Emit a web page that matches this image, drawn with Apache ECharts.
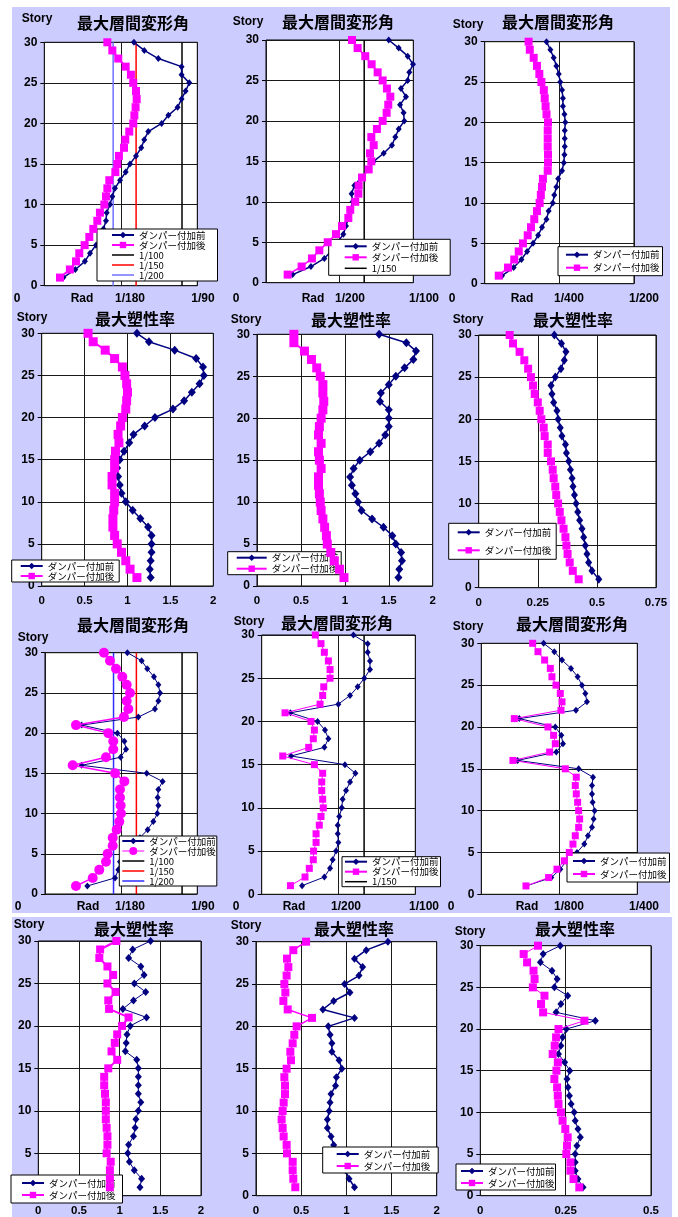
<!DOCTYPE html>
<html><head><meta charset="utf-8">
<script src="https://cdn.jsdelivr.net/npm/echarts@6/dist/echarts.min.js"></script>
<style>html,body{margin:0;padding:0;background:#fff}#c{width:678px;height:1217px}</style>
</head><body><div id="c"></div>
<script>
// ---------- DATA ----------
const stories = [1,2,3,4,5,6,7,8,9,10,11,12,13,14,15,16,17,18,19,20,21,22,23,24,25,26,27,28,29,30];
const seriesNames = ['ダンパー付加前','ダンパー付加後'];
const driftTitle = '最大層間変形角';
const ductTitle = '最大塑性率';
const storyLabel = 'Story';

const p1Before = [0.00138,0.00225,0.00295,0.00332,0.00375,0.00404,0.00429,0.00448,0.00453,0.00477,0.00494,0.00513,0.00550,0.00591,0.00622,0.00666,0.00704,0.00726,0.00755,0.00852,0.00901,0.00968,0.00997,0.01026,0.01053,0.00997,0.00997,0.00828,0.00726,0.00651];
const p1After  = [0.00114,0.00186,0.00230,0.00254,0.00293,0.00327,0.00356,0.00385,0.00404,0.00436,0.00448,0.00458,0.00472,0.00516,0.00530,0.00542,0.00579,0.00588,0.00617,0.00646,0.00654,0.00663,0.00671,0.00666,0.00646,0.00629,0.00591,0.00537,0.00494,0.00458];
const p2Before = [0.00181,0.00305,0.00396,0.00448,0.00486,0.00525,0.00543,0.00559,0.00572,0.00588,0.00581,0.00600,0.00645,0.00697,0.00731,0.00799,0.00855,0.00878,0.00901,0.00939,0.00934,0.00910,0.00950,0.00916,0.00962,0.00973,0.00998,0.00962,0.00901,0.00833];
const p2After  = [0.00147,0.00242,0.00312,0.00362,0.00419,0.00475,0.00516,0.00559,0.00572,0.00606,0.00627,0.00629,0.00652,0.00697,0.00715,0.00706,0.00731,0.00715,0.00753,0.00792,0.00819,0.00830,0.00844,0.00821,0.00792,0.00758,0.00717,0.00674,0.00622,0.00584];
const p3Before = [0.00058,0.00097,0.00123,0.00142,0.00162,0.00179,0.00192,0.00207,0.00214,0.00228,0.00233,0.00240,0.00246,0.00259,0.00265,0.00267,0.00268,0.00268,0.00268,0.00270,0.00267,0.00262,0.00262,0.00259,0.00253,0.00248,0.00240,0.00231,0.00220,0.00207];
const p3After  = [0.00047,0.00078,0.00099,0.00114,0.00128,0.00144,0.00155,0.00166,0.00175,0.00184,0.00188,0.00192,0.00195,0.00211,0.00212,0.00212,0.00211,0.00211,0.00211,0.00212,0.00207,0.00204,0.00201,0.00198,0.00190,0.00183,0.00175,0.00164,0.00151,0.00147];
const p4Before = [1.27,1.26,1.27,1.28,1.28,1.28,1.24,1.15,1.06,0.98,0.93,0.91,0.89,0.88,0.91,0.96,1.02,1.07,1.20,1.32,1.53,1.66,1.75,1.84,1.89,1.88,1.80,1.55,1.25,1.11];
const p4After  = [1.11,1.03,0.98,0.93,0.88,0.85,0.83,0.83,0.84,0.85,0.85,0.82,0.82,0.85,0.85,0.86,0.90,0.89,0.92,0.94,0.98,0.99,1.00,0.99,0.97,0.94,0.85,0.74,0.60,0.54];
const p5Before = [1.61,1.62,1.65,1.64,1.58,1.54,1.44,1.31,1.19,1.15,1.12,1.08,1.06,1.10,1.17,1.29,1.39,1.46,1.50,1.50,1.50,1.40,1.41,1.50,1.58,1.68,1.78,1.81,1.70,1.39];
const p5After  = [0.99,0.94,0.88,0.84,0.80,0.79,0.77,0.75,0.73,0.72,0.71,0.70,0.70,0.73,0.71,0.70,0.73,0.70,0.71,0.73,0.75,0.76,0.75,0.75,0.72,0.68,0.62,0.54,0.42,0.42];
const p6Before = [0.508,0.479,0.465,0.458,0.451,0.444,0.437,0.427,0.419,0.412,0.405,0.399,0.395,0.388,0.381,0.371,0.367,0.352,0.345,0.336,0.331,0.317,0.310,0.306,0.324,0.348,0.362,0.369,0.350,0.320];
const p6After  = [0.423,0.398,0.385,0.376,0.371,0.367,0.359,0.350,0.343,0.336,0.328,0.324,0.317,0.313,0.306,0.292,0.292,0.279,0.275,0.265,0.258,0.250,0.237,0.230,0.221,0.209,0.193,0.173,0.145,0.131];
const p7Before = [0.00309,0.00511,0.00535,0.00547,0.00596,0.00644,0.00693,0.00749,0.00790,0.00819,0.00827,0.00822,0.00827,0.00858,0.00742,0.00267,0.00552,0.00591,0.00579,0.00528,0.00267,0.00681,0.00802,0.00827,0.00839,0.00827,0.00795,0.00746,0.00705,0.00601];
const p7After  = [0.00226,0.00348,0.00396,0.00445,0.00457,0.00494,0.00494,0.00523,0.00542,0.00554,0.00552,0.00547,0.00547,0.00579,0.00511,0.00202,0.00445,0.00498,0.00498,0.00462,0.00226,0.00576,0.00608,0.00596,0.00620,0.00596,0.00564,0.00518,0.00474,0.00430];
const p8Before = [0.00263,0.00408,0.00445,0.00462,0.00484,0.00499,0.00495,0.00495,0.00505,0.00521,0.00527,0.00549,0.00575,0.00610,0.00542,0.00191,0.00408,0.00434,0.00412,0.00364,0.00187,0.00499,0.00575,0.00625,0.00668,0.00705,0.00705,0.00690,0.00690,0.00597];
const p8After  = [0.00187,0.00282,0.00310,0.00336,0.00338,0.00354,0.00354,0.00375,0.00386,0.00401,0.00397,0.00391,0.00391,0.00397,0.00343,0.00137,0.00306,0.00336,0.00343,0.00321,0.00152,0.00380,0.00397,0.00404,0.00445,0.00445,0.00434,0.00408,0.00386,0.00349];
const p9Before = [0.000721,0.001122,0.001266,0.001362,0.001533,0.001651,0.001709,0.001774,0.001800,0.001816,0.001784,0.001774,0.001774,0.001790,0.001560,0.000582,0.001202,0.001309,0.001282,0.001186,0.000609,0.001517,0.001693,0.001667,0.001613,0.001544,0.001437,0.001293,0.001170,0.000999];
const p9After  = [0.000716,0.001079,0.001213,0.001330,0.001410,0.001469,0.001506,0.001560,0.001576,0.001560,0.001544,0.001522,0.001506,0.001522,0.001346,0.000507,0.001095,0.001186,0.001159,0.001068,0.000529,0.001277,0.001293,0.001266,0.001197,0.001132,0.001106,0.001015,0.000908,0.000823];
const p10Before = [1.25,1.27,1.18,1.12,1.10,1.11,1.17,1.19,1.20,1.23,1.26,1.23,1.23,1.23,1.23,1.21,1.07,1.08,1.09,1.13,1.33,1.04,1.17,1.32,1.18,1.30,1.26,1.11,1.16,1.38];
const p10After  = [0.88,0.88,0.88,0.89,0.84,0.85,0.85,0.84,0.83,0.83,0.83,0.82,0.81,0.81,0.86,0.97,0.90,0.94,0.97,1.03,1.11,0.87,0.86,0.95,0.85,0.92,0.85,0.75,0.76,0.96];
const p11Before = [1.09,1.03,0.99,0.95,0.90,0.86,0.83,0.79,0.79,0.81,0.82,0.83,0.88,0.89,0.95,0.92,0.84,0.84,0.82,0.80,1.09,0.74,0.86,1.04,0.98,1.14,1.18,1.09,1.22,1.46];
const p11After  = [0.435,0.413,0.406,0.406,0.343,0.339,0.306,0.295,0.284,0.295,0.306,0.321,0.321,0.314,0.339,0.387,0.380,0.406,0.424,0.450,0.620,0.351,0.303,0.325,0.314,0.339,0.358,0.343,0.413,0.554];
const p12Before = [0.301,0.286,0.278,0.278,0.278,0.283,0.293,0.286,0.278,0.275,0.266,0.261,0.257,0.254,0.262,0.247,0.229,0.236,0.241,0.252,0.337,0.222,0.236,0.256,0.217,0.225,0.210,0.176,0.184,0.234];
const p12After  = [0.290,0.273,0.264,0.264,0.252,0.254,0.256,0.249,0.241,0.236,0.229,0.227,0.225,0.217,0.223,0.227,0.212,0.218,0.222,0.229,0.305,0.184,0.178,0.188,0.154,0.159,0.156,0.137,0.127,0.169];

const p1RefNames = ['1/100','1/150','1/200'];  const p1RefValues = [1/100, 1/150, 1/200];
const p2RefNames = ['1/150'];                  const p2RefValues = [1/150];
const p7RefNames = ['1/100','1/150','1/200'];  const p7RefValues = [1/100, 1/150, 1/200];
const p8RefNames = ['1/150'];                  const p8RefValues = [1/150];

const p1RadLabels = ['0','Rad','1/180','1/90'];
const p2RadLabels = ['0','Rad','1/200','1/100'];
const p3RadLabels = ['0','Rad','1/400','1/200'];
const p7RadLabels = ['0','Rad','1/180','1/90'];
const p8RadLabels = ['0','Rad','1/200','1/100'];
const p9RadLabels = ['0','Rad','1/800','1/400'];

// ---------- LAYOUT / STYLE ----------
const NAVY = '#000080', MAG = '#FF00FF';
const FNUM = '"Liberation Sans", Arial, sans-serif';
const FJP = '"Noto Sans CJK JP", sans-serif';
const circleLineIcon = 'path://M0,3.4H22V4.6H0Z M7,4A4,4 0 1,1 15,4A4,4 0 1,1 7,4Z';

const panels = [
 {grid:[44.3,42.3,153,243.4], xMax:1/90, xInt:1/180, before:p1Before, after:p1After, refN:p1RefNames, refV:p1RefValues, refC:['#000000','#FF0000','#7070FF'],
  title:driftTitle, tPos:[133,23], sPos:[37,19], rad:p1RadLabels, radX:[17,82,130,203], radY:299,
  lg:{left:97, top:229, pad:[1,12,1,14], gap:0}, nSz:[6,7], aSz:8, nW:1.5, aW:2},
 {grid:[266,40,147.3,242.7], xMax:0.01, xInt:0.005, before:p2Before, after:p2After, refN:p2RefNames, refV:p2RefValues, refC:['#000000'],
  title:driftTitle, tPos:[338,22], sPos:[248,22], rad:p2RadLabels, radX:[236,313,350,424], radY:299,
  lg:{left:328.7, top:239.3, pad:[2,12,2,15], gap:1}, nSz:[6,7], aSz:8, nW:1.5, aW:1.5},
 {grid:[484.7,41.7,149.3,242], xMax:0.005, xInt:0.0025, before:p3Before, after:p3After, refN:[], refV:[], refC:[],
  title:driftTitle, tPos:[558,22], sPos:[468,25], rad:p3RadLabels, radX:[452,522,569,644], radY:299,
  lg:{left:558, top:246.7, pad:[3,3,3,7], gap:3}, nSz:[6,7], aSz:8, nW:1.5, aW:1.5},
 {grid:[41.7,333.3,171.6,252.7], xMax:2, xInt:0.5, before:p4Before, after:p4After, refN:[], refV:[], refC:[],
  title:ductTitle, tPos:[135,319], sPos:[32,318],
  lg:{left:11.7, top:560, pad:[1,5,1,8], gap:0}, nSz:[8,9], aSz:9, nW:1.5, aW:2},
 {grid:[257,334.3,175.7,251.7], xMax:2, xInt:0.5, before:p5Before, after:p5After, refN:[], refV:[], refC:[],
  title:ductTitle, tPos:[351,320], sPos:[246,320],
  lg:{left:227.7, top:551.7, pad:[1,3,1,8], gap:1, iw:30}, nSz:[8,9], aSz:9, nW:1.5, aW:2},
 {grid:[478.7,335,177.3,252.7], xMax:0.75, xInt:0.25, before:p6Before, after:p6After, refN:[], refV:[], refC:[],
  title:ductTitle, tPos:[573,320], sPos:[468,320],
  lg:{left:448.7, top:523.3, pad:[4,5,4,8], gap:8}, nSz:[7,9], aSz:8, nW:1.5, aW:1.5},
 {grid:[45,652.7,152.3,241.3], xMax:1/90, xInt:1/180, before:p7Before, after:p7After, refN:p7RefNames, refV:p7RefValues, refC:['#000000','#FF0000','#2E2EFF'],
  title:driftTitle, tPos:[133,625], sPos:[33,638], rad:p7RadLabels, radX:[18,88,130,203], radY:907,
  lg:{left:119.3, top:836, pad:[0,1,0,2], gap:0}, nSz:[6,7], aSz:10, aSym:'circle', nW:1, aW:1.5},
 {grid:[261.7,635,153.6,259.3], xMax:0.01, xInt:0.005, before:p8Before, after:p8After, refN:p8RefNames, refV:p8RefValues, refC:['#000000'],
  title:driftTitle, tPos:[337,623], sPos:[249,622], rad:p8RadLabels, radX:[236,294,346,424], radY:907,
  lg:{left:342, top:856.7, pad:[0,2,0,2], gap:0}, nSz:[6,7], aSz:7, nW:1, aW:1},
 {grid:[481.3,643.3,156,251], xMax:0.0025, xInt:0.00125, before:p9Before, after:p9After, refN:[], refV:[], refC:[],
  title:driftTitle, tPos:[572,624], sPos:[468,627], rad:p9RadLabels, radX:[451,527,569,644], radY:907,
  lg:{left:567, top:853, pad:[3,3,3,5], gap:3}, nSz:[6,7], aSz:7, nW:1, aW:1},
 {grid:[38.3,941,162.7,254.7], xMax:2, xInt:0.5, before:p10Before, after:p10After, refN:[], refV:[], refC:[],
  title:ductTitle, tPos:[134,929], sPos:[29,925],
  lg:{left:11, top:1175, pad:[3,7,3,10], gap:2}, nSz:[7,8], aSz:8, nW:1, aW:2},
 {grid:[256,941.7,180.7,254], xMax:2, xInt:0.5, before:p11Before, after:p11After, refN:[], refV:[], refC:[],
  title:ductTitle, tPos:[354,929], sPos:[246,926],
  lg:{left:322.7, top:1147, pad:[2,8,2,13], gap:2}, nSz:[7,8], aSz:8, nW:1.5, aW:1.5},
 {grid:[480.3,945.7,170.7,250], xMax:0.5, xInt:0.25, before:p12Before, after:p12After, refN:[], refV:[], refC:[],
  title:ductTitle, tPos:[575,929], sPos:[470,932],
  lg:{left:456, top:1164, pad:[2,1,2,4], gap:2}, nSz:[7,8], aSz:8, nW:1, aW:1}
];

// ---------- BUILD ----------
const grids=[], xAxes=[], yAxes=[], series=[], legends=[];
const gfx = [
  {type:'rect', z:-100, shape:{x:12,y:7,width:658,height:907}, style:{fill:'#CCCCFF'}, silent:true},
  {type:'rect', z:-100, shape:{x:12,y:917,width:660,height:300}, style:{fill:'#CCCCFF'}, silent:true}
];
const pairs = (arr) => arr.map((v,k)=>[v, stories[k]]);

panels.forEach((p,i)=>{
  const [l,t,w,h] = p.grid;
  grids.push({left:l, top:t, width:w, height:h, show:true, backgroundColor:'#fff', borderColor:'#000', borderWidth:1, containLabel:false});
  const isDrift = !!p.rad;
  xAxes.push({type:'value', gridIndex:i, min:0, max:p.xMax, interval:p.xInt,
    axisLine:{show:false}, axisTick:{show:false},
    axisLabel:{show:!isDrift, margin:9, fontFamily:FNUM, fontWeight:'bold', fontSize:11.5, color:'#000'},
    splitLine:{show:true, lineStyle:{color:'#1a1a1a', width:1}}});
  yAxes.push({type:'value', gridIndex:i, min:0, max:30, interval:5,
    axisLine:{show:false}, axisTick:{show:true, length:4, lineStyle:{color:'#000'}},
    axisLabel:{margin:7, fontFamily:FNUM, fontWeight:'bold', fontSize:12, color:'#000'},
    splitLine:{show:true, lineStyle:{color:'#1a1a1a', width:1}}});
  p.refN.forEach((nm,k)=>{
    series.push({type:'line', name:nm, xAxisIndex:i, yAxisIndex:i, data:[[p.refV[k],0],[p.refV[k],30]],
      symbol:'none', lineStyle:{color:p.refC[k], width:1.5}, itemStyle:{color:p.refC[k]}, z:2, silent:true});
  });
  series.push({type:'line', name:seriesNames[0], xAxisIndex:i, yAxisIndex:i, data:pairs(p.before),
    symbol:'diamond', symbolSize:p.nSz, lineStyle:{color:NAVY, width:p.nW}, itemStyle:{color:NAVY}, z:3});
  series.push({type:'line', name:seriesNames[1], xAxisIndex:i, yAxisIndex:i, data:pairs(p.after),
    symbol:p.aSym||'rect', symbolSize:p.aSz, lineStyle:{color:MAG, width:p.aW}, itemStyle:{color:MAG}, z:4});

  const ldata = [{name:seriesNames[0]}];
  if (p.aSym==='circle') ldata.push({name:seriesNames[1], icon:circleLineIcon});
  else ldata.push({name:seriesNames[1]});
  p.refN.forEach((nm,k)=>ldata.push({name:nm, itemStyle:{opacity:0}, lineStyle:{color:p.refC[k], width:1.5}}));
  legends.push({show:true, orient:'vertical', align:'left', left:p.lg.left, top:p.lg.top, padding:p.lg.pad, itemGap:p.lg.gap,
    itemWidth:p.lg.iw||22, itemHeight:8, backgroundColor:'#fff', borderColor:'#000', borderWidth:1, borderRadius:0,
    selectedMode:false, data:ldata, textStyle:{fontFamily:FJP, fontSize:9.5, lineHeight:10, color:'#000'}});

  gfx.push({type:'text', x:p.tPos[0], y:p.tPos[1], z:10, style:{text:p.title, font:'bold 16px '+FJP, fill:'#000', align:'center', verticalAlign:'middle', textAlign:'center', textVerticalAlign:'middle'}});
  gfx.push({type:'text', x:p.sPos[0], y:p.sPos[1], z:10, style:{text:storyLabel, font:'bold 12px '+FNUM, fill:'#000', align:'center', verticalAlign:'middle', textAlign:'center', textVerticalAlign:'middle'}});
  if (isDrift) {
    p.rad.forEach((s,k)=>gfx.push({type:'text', x:p.radX[k], y:p.radY, z:10, style:{text:s, font:'bold 12px '+FNUM, fill:'#000', align:'center', verticalAlign:'middle', textAlign:'center', textVerticalAlign:'middle'}}));
  }
});
gfx.push({type:'rect', z:50, shape:{x:0,y:913,width:678,height:4}, style:{fill:'#fff'}, silent:true});

const chart = echarts.init(document.getElementById('c'), null, {renderer:'canvas'});
chart.setOption({animation:false, backgroundColor:'#fff', grid:grids, xAxis:xAxes, yAxis:yAxes, series:series, legend:legends, graphic:{elements:gfx}});
</script></body></html>
